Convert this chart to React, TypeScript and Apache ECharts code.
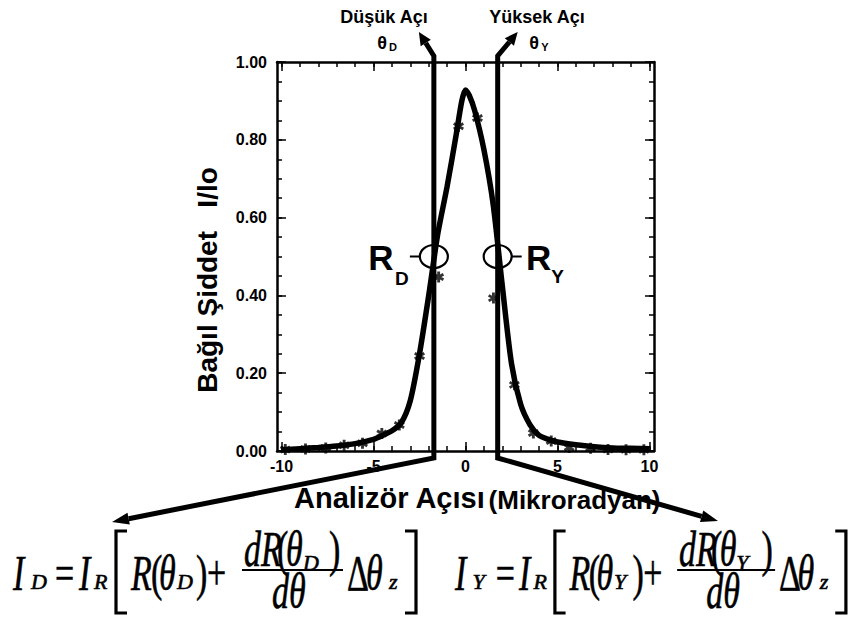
import React, { useEffect, useRef } from "react";
import * as echarts from "echarts";

// Fitted rocking curve (relative intensity I/Io vs analyser angle, microradian)
const curveX = [-10, -9, -8, -7, -6, -5, -4.5, -4, -3.5, -3, -2.5, -2, -1.5, -1, -0.5, -0.2, 0, 0.2, 0.5, 1, 1.5, 2, 2.5, 3, 3.5, 4, 4.5, 5, 6, 7, 8, 9, 10];
const curveY = [0.003, 0.006, 0.009, 0.013, 0.019, 0.03, 0.04, 0.052, 0.072, 0.13, 0.25, 0.4, 0.56, 0.68, 0.815, 0.9, 0.928, 0.915, 0.875, 0.775, 0.635, 0.425, 0.225, 0.12, 0.068, 0.04, 0.03, 0.023, 0.016, 0.011, 0.008, 0.007, 0.006];

// Measured points (asterisks)
const pointX = [-9.8, -8.7, -7.6, -6.6, -5.6, -4.55, -3.6, -2.5, -1.46, -0.38, 0.65, 1.52, 2.66, 3.69, 4.66, 5.64, 6.8, 7.75, 8.73, 9.7];
const pointY = [0.004, 0.005, 0.008, 0.015, 0.02, 0.045, 0.067, 0.244, 0.447, 0.835, 0.856, 0.393, 0.17, 0.046, 0.026, 0.009, 0.007, 0.004, 0.003, 0.003];

const xMajorTicks = [-10, -5, 0, 5, 10];
const xMinorTicks = [-10, -9, -8, -7, -6, -5, -4, -3, -2, -1, 0, 1, 2, 3, 4, 5, 6, 7, 8, 9, 10];
const yTickLabels = ["0.00", "0.20", "0.40", "0.60", "0.80", "1.00"];

const thetaD = -1.72;
const thetaY = 1.75;
const halfLevel = 0.5;

const SANS = "'Liberation Sans', Arial, sans-serif";
const SERIF = "'Liberation Serif', 'Times New Roman', serif";

const ASTERISK =
  "path://M-1.3,-5L1.3,-5L1.3,5L-1.3,5Z M3.68,-3.63L4.98,-1.37L-3.68,3.63L-4.98,1.37Z M4.98,1.37L3.68,3.63L-4.98,-1.37L-3.68,-3.63Z";

function txt(text: string, x: number, y: number, size: number, opts: any = {}) {
  const align = opts.align || "left";
  return {
    type: "text",
    x,
    y,
    scaleX: opts.sx ?? 1,
    rotation: opts.rot ?? 0,
    silent: true,
    z: 100,
    style: {
      text,
      fontFamily: opts.family || SANS,
      fontSize: size,
      fontWeight: opts.weight || "normal",
      fontStyle: opts.italic ? "italic" : "normal",
      fill: "#000",
      stroke: opts.stroke ? "#000" : undefined,
      lineWidth: opts.stroke || 0,
      textAlign: align,
      align,
      textVerticalAlign: "middle",
      verticalAlign: "middle",
    },
  };
}

function formula(x0: number, s: number, sub: string) {
  const F = 50;
  const SX = 0.68;
  const SUB = 22;
  const SSX = 1.0;
  const main = 573;
  const subY = 581;
  const num = 549;
  const numSub = 562;
  const den = 591;
  const X = (r: number) => x0 + r * s;
  const it = (t: string, r: number, y: number, size = F, sx = SX) =>
    txt(t, X(r), y, size, { family: SERIF, italic: true, sx, stroke: 0.6 });
  const up = (t: string, r: number, y: number, size = F, sx = SX) =>
    txt(t, X(r), y, size, { family: SERIF, sx, stroke: 0.6 });
  const els: any[] = [
    it("I", 0, main),
    it(sub, 18, subY, SUB, SSX),
    up("=", 42, main),
    it("I", 66, main),
    it("R", 81, subY, SUB, SSX),
    it("R", 118, main),
    up("(", 138, main),
    it("θ", 146, main),
    it(sub, 164, subY, SUB, SSX),
    up(")", 183, main),
    up("+", 194, main),
    it("dR", 231, num),
    up("(", 264, num),
    it("θ", 273, num),
    it(sub, 290, numSub, SUB, SSX),
    up(")", 316, num),
    it("dθ", 259, den),
    up("Δ", 334, main),
    it("θ", 353, main),
    it("z", 376, subY, SUB, SSX),
    {
      type: "line",
      silent: true,
      shape: { x1: X(229), y1: 570, x2: X(330), y2: 570 },
      style: { stroke: "#000", lineWidth: 2.2 },
    },
    {
      type: "polyline",
      silent: true,
      shape: { points: [[X(114), 531], [X(103), 531], [X(103), 613], [X(114), 613]] },
      style: { stroke: "#000", lineWidth: 3.2, fill: "none" },
    },
    {
      type: "polyline",
      silent: true,
      shape: { points: [[X(392), 531], [X(403), 531], [X(403), 613], [X(392), 613]] },
      style: { stroke: "#000", lineWidth: 3.2, fill: "none" },
    },
  ];
  return els;
}

function arrowHead(fx: number, fy: number, tx: number, ty: number, len: number, w: number) {
  const dx = tx - fx;
  const dy = ty - fy;
  const L = Math.sqrt(dx * dx + dy * dy);
  const ux = dx / L;
  const uy = dy / L;
  const bx = tx - ux * len;
  const by = ty - uy * len;
  return {
    base: [bx, by],
    el: {
      type: "polygon",
      silent: true,
      z: 90,
      shape: {
        points: [
          [tx, ty],
          [bx - uy * w / 2, by + ux * w / 2],
          [bx + uy * w / 2, by - ux * w / 2],
        ],
      },
      style: { fill: "#000" },
    },
  };
}

export default function App() {
  const ref = useRef<HTMLDivElement>(null);
  useEffect(() => {
    document.body.style.margin = "0";
    const chart = echarts.init(ref.current!, null, { renderer: "svg" });
    const xRange = { min: -10.25, max: 10.25 };
    const lineStyle = { color: "#000", width: 2.5 };
    const mkX = (pos: string, major: boolean, showLine: boolean, labels: boolean) => ({
      type: "value",
      position: pos,
      ...xRange,
      splitLine: { show: false },
      axisLine: { show: showLine, onZero: false, lineStyle },
      axisTick: {
        show: true,
        inside: true,
        length: major ? 9 : 5,
        customValues: major ? xMajorTicks : xMinorTicks,
        lineStyle: { color: "#000", width: 1.5 },
      },
      axisLabel: labels
        ? {
            show: true,
            customValues: xMajorTicks,
            color: "#000",
            fontFamily: SANS,
            fontWeight: "bold",
            fontSize: 16,
            margin: 7,
          }
        : { show: false },
    });
    const mkY = (pos: string, major: boolean, showLine: boolean, labels: boolean) => ({
      type: "value",
      position: pos,
      min: 0,
      max: 1,
      interval: major ? 0.2 : 0.05,
      splitLine: { show: false },
      axisLine: { show: showLine, onZero: false, lineStyle },
      axisTick: {
        show: true,
        inside: true,
        length: major ? 9 : 5,
        lineStyle: { color: "#000", width: 1.5 },
      },
      axisLabel: labels
        ? {
            show: true,
            color: "#000",
            fontFamily: SANS,
            fontWeight: "bold",
            fontSize: 16,
            margin: 10,
            formatter: (v: number) => yTickLabels[Math.round(v / 0.2)] ?? "",
          }
        : { show: false },
    });

    chart.setOption({
      animation: false,
      backgroundColor: "#fff",
      grid: { left: 277, top: 62, width: 377, height: 389, containLabel: false },
      xAxis: [mkX("bottom", true, true, true), mkX("bottom", false, false, false), mkX("top", true, true, false), mkX("top", false, false, false)],
      yAxis: [mkY("left", true, true, true), mkY("left", false, false, false), mkY("right", true, true, false), mkY("right", false, false, false)],
      series: [
        {
          type: "line",
          name: "fit",
          data: curveX.map((x, i) => [x, curveY[i]]),
          smooth: 0.25,
          showSymbol: false,
          lineStyle: { color: "#000", width: 5.5 },
          z: 3,
        },
        {
          type: "scatter",
          name: "measured",
          data: pointX.map((x, i) => [x, pointY[i]]),
          symbol: ASTERISK,
          symbolSize: 11,
          itemStyle: { color: "#000" },
          z: 4,
        },
      ],
    });

    const [xD, yHalf] = chart.convertToPixel({ gridIndex: 0 }, [thetaD, halfLevel]) as number[];
    const [xY] = chart.convertToPixel({ gridIndex: 0 }, [thetaY, halfLevel]) as number[];
    const topY = 56;
    const botY = 458;

    const hTL = arrowHead(xD, topY, xD - 15, 32, 13, 12);
    const hTR = arrowHead(xY, topY, xY + 20, 32, 13, 12);
    const hBL = arrowHead(xD, botY, 112, 522, 17, 12);
    const hBR = arrowHead(xY, botY, 718, 521, 17, 12);

    const thick = { stroke: "#000", lineWidth: 5, fill: "none", lineJoin: "miter" };

    const graphic: any[] = [
      {
        type: "polyline",
        silent: true,
        z: 90,
        shape: { points: [hTL.base, [xD, topY], [xD, botY], hBL.base] },
        style: thick,
      },
      {
        type: "polyline",
        silent: true,
        z: 90,
        shape: { points: [hTR.base, [xY, topY], [xY, botY], hBR.base] },
        style: thick,
      },
      hTL.el,
      hTR.el,
      hBL.el,
      hBR.el,
      // R_D marker
      {
        type: "ellipse",
        silent: true,
        z: 95,
        shape: { cx: xD, cy: yHalf, rx: 14, ry: 11.5 },
        style: { stroke: "#000", lineWidth: 2.2, fill: "none" },
      },
      {
        type: "line",
        silent: true,
        z: 95,
        shape: { x1: xD - 24, y1: yHalf, x2: xD - 14, y2: yHalf },
        style: { stroke: "#000", lineWidth: 2 },
      },
      txt("R", xD - 53, yHalf + 1, 35, { weight: "bold", align: "center" }),
      txt("D", xD - 32, yHalf + 22, 19, { weight: "bold", align: "center" }),
      // R_Y marker
      {
        type: "ellipse",
        silent: true,
        z: 95,
        shape: { cx: xY, cy: yHalf, rx: 14, ry: 11.5 },
        style: { stroke: "#000", lineWidth: 2.2, fill: "none" },
      },
      {
        type: "line",
        silent: true,
        z: 95,
        shape: { x1: xY + 14, y1: yHalf, x2: xY + 24, y2: yHalf },
        style: { stroke: "#000", lineWidth: 2 },
      },
      txt("R", xY + 41, yHalf + 1, 35, { weight: "bold", align: "center" }),
      txt("Y", xY + 60, yHalf + 20, 19, { weight: "bold", align: "center" }),
      // top labels
      txt("Düşük Açı", 384, 17, 18, { weight: "bold", align: "center" }),
      txt("θ", 382, 43, 18, { weight: "bold", align: "center" }),
      txt("D", 393, 47, 11, { weight: "bold", align: "center" }),
      txt("Yüksek Açı", 537, 17, 18, { weight: "bold", align: "center" }),
      txt("θ", 534, 43, 18, { weight: "bold", align: "center" }),
      txt("Y", 545, 47, 11, { weight: "bold", align: "center" }),
      // axis titles
      txt("Bağıl Şiddet   I/lo", 207, 280, 28, { weight: "bold", align: "center", rot: Math.PI / 2 }),
      {
        type: "text",
        x: 477,
        y: 498,
        silent: true,
        z: 80,
        style: {
          text: "{a|Analizör Açısı} {b|(Mikroradyan)}",
          textAlign: "center",
          align: "center",
          textVerticalAlign: "middle",
          verticalAlign: "middle",
          fill: "#000",
          rich: {
            a: { fontFamily: SANS, fontWeight: "bold", fontSize: 29, fill: "#000", verticalAlign: "bottom" },
            b: { fontFamily: SANS, fontWeight: "bold", fontSize: 26, fill: "#000", verticalAlign: "bottom" },
          },
        },
      },
      ...formula(13, 1, "D"),
      ...formula(455, 0.97, "Y"),
    ];
    chart.setOption({ graphic });
    return () => chart.dispose();
  }, []);
  return <div ref={ref} style={{ width: 852, height: 621 }} />;
}
